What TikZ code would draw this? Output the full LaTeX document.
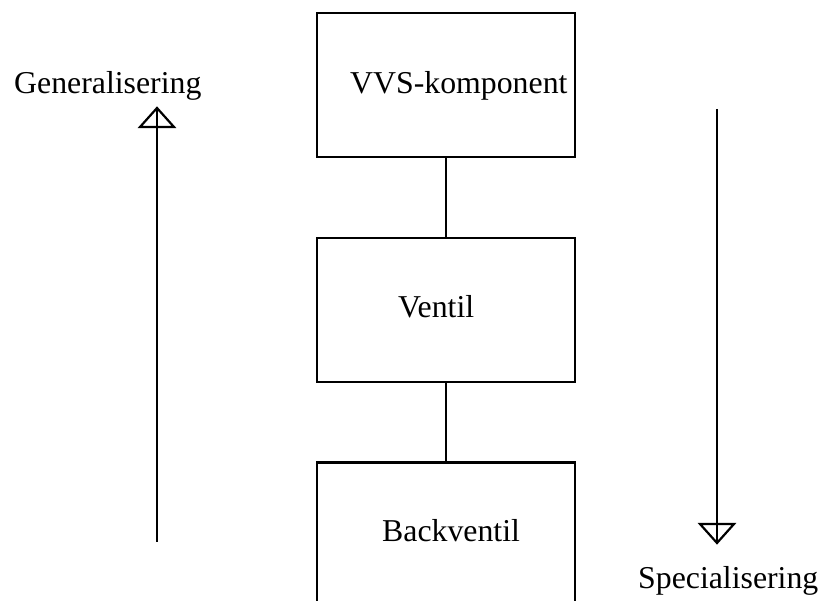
\documentclass[tikz,border=0pt]{standalone}
\usepackage{fontspec}
\setmainfont{Liberation Serif}
\begin{document}
\begin{tikzpicture}[x=1pt,y=-1pt,
  box/.style={draw, line width=2.5pt, inner sep=0pt, minimum width=258pt},
  lbl/.style={font=\fontsize{31.8}{38}\selectfont, inner sep=0pt, anchor=base west},
  conn/.style={line width=2.5pt},
  head/.style={line width=2.2pt, line join=miter}]
\useasboundingbox (0,0) rectangle (823,601);
\clip (0,0) rectangle (823,601);
\fill[white] (0,0) rectangle (823,601);
% boxes
\node[box, minimum height=144pt] (top) at (446,85) {};
\node[box, minimum height=144pt] (mid) at (446,310) {};
\node[box, minimum height=178pt] (bot) at (446,551.5) {};
% connectors
\draw[conn] (top.south) -- (mid.north);
\draw[conn] (mid.south) -- (bot.north);
% labels
\node[lbl] (t1) at (350,94) {VVS-komponent};
\node[lbl] (t2) at (398,318) {Ventil};
\node[lbl] (t3) at (382,542) {Backventil};
\node[lbl] (gen) at (14,94) {Generalisering};
\node[lbl] (spec) at (638,589) {Specialisering};
% generalisation arrow (up)
\coordinate (gA) at (157,542);
\coordinate (gB) at (157,108);
\draw[conn] (gA) -- (gB);
\draw[head] (gB) -- ++(-17,19) -- ++(34,0) -- cycle;
% specialisation arrow (down)
\coordinate (sA) at (717,109);
\coordinate (sB) at (717,543);
\draw[conn] (sA) -- (sB);
\draw[head] (sB) -- ++(-17,-19) -- ++(34,0) -- cycle;
\end{tikzpicture}
\end{document}
